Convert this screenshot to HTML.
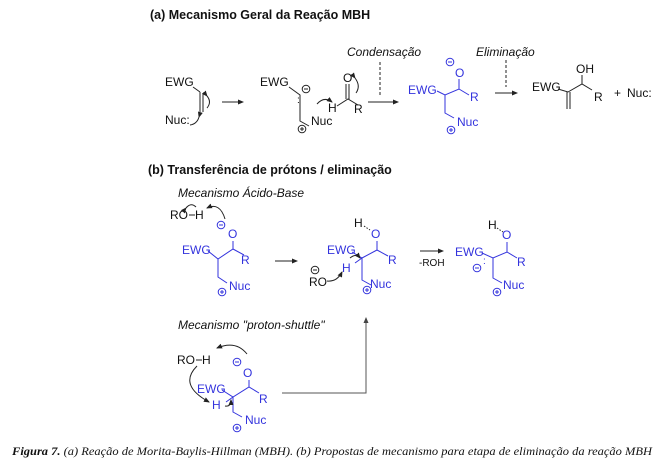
<!DOCTYPE html>
<html><head><meta charset="utf-8"><style>
html,body{margin:0;padding:0;background:#fff;}
svg{display:block;}
text{font-family:"Liberation Sans",sans-serif;font-size:12px;}
.b{fill:#3333dd;}
.bl{stroke:#3333dd;}
.k{stroke:#222;}
</style></head><body>
<svg width="659" height="470" viewBox="0 0 659 470" xmlns="http://www.w3.org/2000/svg">
<defs>
<marker id="ah" markerWidth="6" markerHeight="6" refX="5" refY="3" orient="auto" markerUnits="userSpaceOnUse"><path d="M0,0.5 L6,3 L0,5.5 z" fill="#222"/></marker>
<marker id="ah2" markerWidth="6" markerHeight="6" refX="5" refY="3" orient="auto" markerUnits="userSpaceOnUse"><path d="M0,0.5 L6,3 L0,5.5 z" fill="#444"/></marker>
</defs>
<g fill="none" stroke-width="1">
<text x="150" y="19" style="font-weight:bold;font-size:12.5px" fill="#111" stroke="none">(a) Mecanismo Geral da Reação MBH</text>
<text x="165" y="86" fill="#111" stroke="none">EWG</text>
<path class="k" d="M193,87 L200,92 M200,92 L200,114 M203,94 L203,112"/>
<text x="165" y="124" fill="#111" stroke="none">Nuc:</text>
<path class="k" d="M199,117 Q197,124 190,125" marker-start="url(#ah)"/>
<path class="k" d="M207,96 Q212,102 207,108" marker-start="url(#ah)"/>
<line class="k" x1="222" y1="102" x2="243" y2="102" marker-end="url(#ah)"/>
<text x="260" y="86" fill="#111" stroke="none">EWG</text>
<path class="k" d="M289,87 L300,95 L300,121 L309,126"/>
<text x="297" y="103" fill="#111" stroke="none" style="font-size:10px">:</text>
<circle class="k" cx="306" cy="89" r="3.8"/><line class="k" x1="304" y1="89" x2="308" y2="89"/>
<text x="311" y="125" fill="#111" stroke="none">Nuc</text>
<circle class="k" cx="302" cy="129" r="3.8"/><path class="k" d="M300,129 h4 M302,127 v4"/>
<path class="k" d="M317,104 Q324,96 332,102" marker-end="url(#ah)"/>
<text x="328" y="112" fill="#111" stroke="none">H</text>
<path class="k" d="M337,106 L348,99 L358,105 M346,99 L346,84 M349,99 L349,84"/>
<text x="343" y="82" fill="#111" stroke="none">O</text>
<text x="354" y="113" fill="#111" stroke="none">R</text>
<path class="k" d="M355,78 Q361,86 356,93" marker-start="url(#ah)"/>
<line class="k" x1="368" y1="102" x2="398" y2="102" marker-end="url(#ah)"/>
<text x="347" y="56" fill="#111" stroke="none" font-style="italic">Condensação</text>
<line class="k" x1="380" y1="62" x2="380" y2="96" stroke-dasharray="3,2"/>
<text class="b" x="408" y="94" stroke="none">EWG</text>
<path class="bl" d="M437,91 L445,95 L459,89 L469,95 M459,89 L459,79 M445,95 L445,113 L454,118"/>
<text class="b" x="455" y="77" stroke="none">O</text>
<circle class="bl" cx="450" cy="62" r="3.8"/><line class="bl" x1="448" y1="62" x2="452" y2="62"/>
<text class="b" x="470" y="101" stroke="none">R</text>
<text class="b" x="457" y="126" stroke="none">Nuc</text>
<circle class="bl" cx="451" cy="130" r="3.8"/><path class="bl" d="M449,130 h4 M451,128 v4"/>
<text x="476" y="56" fill="#111" stroke="none" font-style="italic">Eliminação</text>
<line class="k" x1="506" y1="60" x2="506" y2="87" stroke-dasharray="3,2"/>
<line class="k" x1="495" y1="93" x2="517" y2="93" marker-end="url(#ah)"/>
<text x="532" y="91" fill="#111" stroke="none">EWG</text>
<path class="k" d="M558,89 L568,92 L582,84 L592,90 M582,84 L582,75 M567,92 L567,109 M570,92 L570,109"/>
<text x="576" y="73" fill="#111" stroke="none">OH</text>
<text x="594" y="101" fill="#111" stroke="none">R</text>
<text x="614" y="97" fill="#111" stroke="none">+</text>
<text x="627" y="97" fill="#111" stroke="none">Nuc:</text>

<text x="148" y="174" style="font-weight:bold;font-size:12.5px" fill="#111" stroke="none">(b) Transferência de prótons / eliminação</text>
<text x="178" y="197" fill="#111" stroke="none" font-style="italic">Mecanismo Ácido-Base</text>
<text x="170" y="219" fill="#111" stroke="none">RO</text>
<line class="k" x1="189" y1="215" x2="195" y2="215"/>
<text x="195" y="219" fill="#111" stroke="none">H</text>
<path class="k" d="M186,208 Q191,202 196,207" marker-start="url(#ah)"/>
<path class="k" d="M225,219 Q220,202 207,208" marker-end="url(#ah)"/>
<circle class="bl" cx="221" cy="225" r="3.8"/><line class="bl" x1="219" y1="225" x2="223" y2="225"/>
<text class="b" x="228" y="238" stroke="none">O</text>
<text class="b" x="182" y="254" stroke="none">EWG</text>
<path class="bl" d="M208,251 L218,259 L233,249 L244,255 M233,249 L233,241 M218,259 L218,277 L227,283"/>
<text class="b" x="241" y="264" stroke="none">R</text>
<text class="b" x="229" y="290" stroke="none">Nuc</text>
<circle class="bl" cx="222" cy="292" r="3.8"/><path class="bl" d="M220,292 h4 M222,290 v4"/>
<line class="k" x1="275" y1="261" x2="297" y2="261" marker-end="url(#ah)"/>
<text x="354" y="227" fill="#111" stroke="none">H</text>
<path class="k" d="M364,226 L370,230" stroke-dasharray="1.5,1.5"/>
<text class="b" x="371" y="238" stroke="none">O</text>
<text class="b" x="327" y="254" stroke="none">EWG</text>
<path class="bl" d="M352,252 L362,258 L377,250 L388,256 M377,250 L377,241 M362,258 L362,280 L371,285 M362,258 L355,263"/>
<path class="k" d="M350,258 Q356,253 360,258" marker-end="url(#ah)"/>
<text class="b" x="342" y="272" stroke="none">H</text>
<text class="b" x="388" y="264" stroke="none">R</text>
<text class="b" x="370" y="288" stroke="none">Nuc</text>
<circle class="bl" cx="367" cy="290" r="3.8"/><path class="bl" d="M365,290 h4 M367,288 v4"/>
<text x="309" y="286" fill="#111" stroke="none">RO</text>
<circle class="k" cx="315" cy="270" r="3.8"/><line class="k" x1="313" y1="270" x2="317" y2="270"/>
<path class="k" d="M327,281 Q337,282 342,272" marker-end="url(#ah)"/>
<line class="k" x1="420" y1="251" x2="443" y2="251" marker-end="url(#ah)"/>
<text x="419" y="266" fill="#111" stroke="none" style="font-size:10px">-ROH</text>
<text x="488" y="229" fill="#111" stroke="none">H</text>
<path class="k" d="M497,228 L503,232" stroke-dasharray="1.5,1.5"/>
<text class="b" x="502" y="239" stroke="none">O</text>
<text class="b" x="455" y="256" stroke="none">EWG</text>
<path class="bl" d="M482,253 L493,258 L507,252 L517,258 M507,252 L507,242 M493,258 L493,278 L502,283"/>
<text class="b" x="483" y="264" stroke="none" style="font-size:10px">:</text>
<circle class="bl" cx="477" cy="268" r="3.8"/><line class="bl" x1="475" y1="268" x2="479" y2="268"/>
<text class="b" x="517" y="266" stroke="none">R</text>
<text class="b" x="503" y="289" stroke="none">Nuc</text>
<circle class="bl" cx="497" cy="292" r="3.8"/><path class="bl" d="M495,292 h4 M497,290 v4"/>

<text x="178" y="329" fill="#111" stroke="none" font-style="italic">Mecanismo "proton-shuttle"</text>
<text x="177" y="364" fill="#111" stroke="none">RO</text>
<line class="k" x1="196" y1="360" x2="202" y2="360"/>
<text x="202" y="364" fill="#111" stroke="none">H</text>
<path class="k" d="M247,354 Q236,340 217,348" marker-end="url(#ah)"/>
<path class="k" d="M197,366 Q178,385 209,402" marker-end="url(#ah)"/>
<circle class="bl" cx="237" cy="362" r="3.8"/><line class="bl" x1="235" y1="362" x2="239" y2="362"/>
<text class="b" x="243" y="377" stroke="none">O</text>
<text class="b" x="197" y="393" stroke="none">EWG</text>
<path class="bl" d="M222,390 L233,397 L249,387 L259,393 M249,387 L249,380 M233,397 L233,412 L242,417 M233,397 L226,402"/>
<text class="b" x="212" y="409" stroke="none">H</text>
<path class="k" d="M225,406 Q231,407 231,400" marker-end="url(#ah)"/>
<text class="b" x="259" y="403" stroke="none">R</text>
<text class="b" x="245" y="424" stroke="none">Nuc</text>
<circle class="bl" cx="237" cy="428" r="3.8"/><path class="bl" d="M235,428 h4 M237,426 v4"/>
<path d="M282,393 L366,393 L366,318" stroke="#555" marker-end="url(#ah2)"/>
</g>
<text x="12" y="455" textLength="640" lengthAdjust="spacingAndGlyphs" style="font-family:'Liberation Serif',serif;font-size:12px;font-style:italic" fill="#111"><tspan font-weight="bold">Figura 7.</tspan> (a) Reação de Morita-Baylis-Hillman (MBH). (b) Propostas de mecanismo para etapa de eliminação da reação MBH</text>
</svg>
</body></html>
